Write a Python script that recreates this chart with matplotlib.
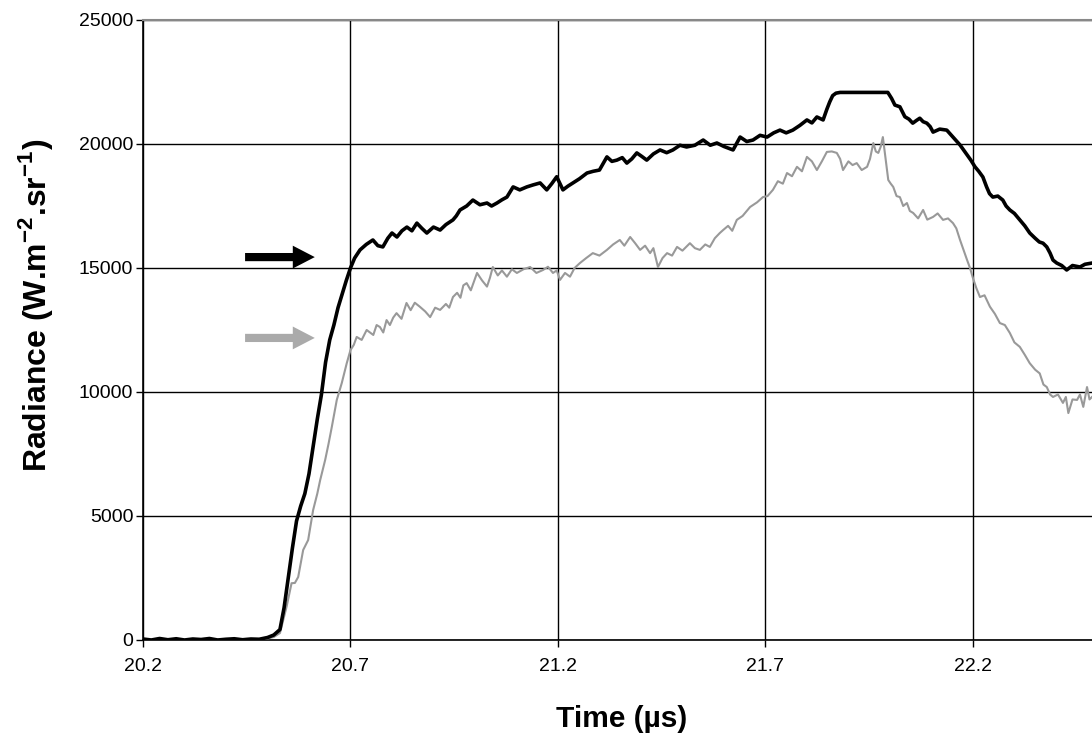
import matplotlib
matplotlib.use('Agg')
import matplotlib.pyplot as plt
from matplotlib.patches import FancyArrow

plt.rcParams['font.family'] = ['Liberation Sans', 'DejaVu Sans']
plt.rcParams['mathtext.fontset'] = 'custom'
plt.rcParams['mathtext.rm'] = 'Liberation Sans'
plt.rcParams['mathtext.bf'] = 'Liberation Sans:bold'

# black trace (time in us, radiance)
t_black = [20.20, 20.22, 20.24, 20.26, 20.28, 20.30, 20.32, 20.34, 20.36, 20.38,
           20.40, 20.42, 20.44, 20.46, 20.48, 20.50, 20.515, 20.53, 20.54, 20.55,
           20.56, 20.57, 20.58, 20.59, 20.60, 20.61, 20.62, 20.63, 20.64, 20.65,
           20.66, 20.67, 20.68, 20.69, 20.70, 20.71, 20.723, 20.738, 20.754, 20.766,
           20.778, 20.79, 20.80, 20.812, 20.824, 20.836, 20.848, 20.86, 20.872, 20.884,
           20.90, 20.916, 20.93, 20.947, 20.955, 20.964, 20.98, 20.995, 21.012, 21.029,
           21.04, 21.053, 21.065, 21.077, 21.092, 21.108, 21.125, 21.14, 21.157, 21.173,
           21.185, 21.197, 21.212, 21.224, 21.236, 21.252, 21.27, 21.285, 21.30, 21.318,
           21.33, 21.342, 21.355, 21.366, 21.378, 21.39, 21.402, 21.414, 21.43, 21.446,
           21.462, 21.477, 21.494, 21.51, 21.53, 21.55, 21.567, 21.583, 21.60, 21.622,
           21.639, 21.655, 21.67, 21.687, 21.704, 21.72, 21.735, 21.75, 21.766, 21.783,
           21.80, 21.812, 21.824, 21.839, 21.848, 21.855, 21.862, 21.87, 21.88, 21.995,
           22.004, 22.012, 22.024, 22.036, 22.046, 22.055, 22.064, 22.072, 22.08, 22.089,
           22.097, 22.104, 22.12, 22.137, 22.152, 22.169, 22.186, 22.195, 22.205, 22.214,
           22.224, 22.233, 22.24, 22.248, 22.26, 22.272, 22.28, 22.289, 22.30, 22.313,
           22.325, 22.337, 22.35, 22.36, 22.369, 22.378, 22.386, 22.393, 22.402, 22.414,
           22.426, 22.44, 22.458, 22.47, 22.487]
v_black = [40, 0, 60, 10, 50, 0, 40, 20, 60, 0,
           30, 50, 10, 40, 30, 100, 200, 420, 1300, 2500,
           3700, 4800, 5400, 5900, 6700, 7800, 8900, 9900, 11200, 12100,
           12700, 13400, 13950, 14500, 15000, 15400, 15730, 15950, 16130, 15900,
           15850, 16200, 16410, 16250, 16500, 16650, 16500, 16810, 16600, 16410,
           16650, 16530, 16750, 16940, 17100, 17340, 17500, 17740, 17550, 17620,
           17500, 17620, 17750, 17860, 18270, 18150, 18270, 18350, 18430, 18150,
           18400, 18680, 18150, 18300, 18430, 18600, 18830, 18900, 18950, 19480,
           19300, 19350, 19450, 19230, 19400, 19640, 19500, 19350, 19600, 19760,
           19650, 19760, 19950, 19880, 19950, 20160, 19950, 20040, 19900, 19760,
           20280, 20100, 20160, 20350, 20280, 20450, 20560, 20450, 20560, 20750,
           20970, 20850, 21090, 20970, 21400, 21700, 21950, 22050, 22080, 22080,
           21840, 21570, 21500, 21100, 21000, 20840, 20950, 21040, 20900, 20840,
           20700, 20480, 20600, 20560, 20280, 19960, 19560, 19350, 19080, 18900,
           18670, 18270, 18000, 17860, 17900, 17740, 17500, 17340, 17200, 16940,
           16700, 16410, 16200, 16050, 16000, 15850, 15600, 15320, 15200, 15100,
           14920, 15100, 15040, 15150, 15200]

# grey trace
t_grey = [20.20, 20.25, 20.30, 20.35, 20.40, 20.45, 20.48, 20.50, 20.515, 20.53,
          20.546, 20.558, 20.566, 20.574, 20.586, 20.598, 20.61, 20.62, 20.627, 20.639,
          20.647, 20.655, 20.667, 20.679, 20.691, 20.70, 20.708, 20.715, 20.727, 20.739,
          20.755, 20.763, 20.771, 20.779, 20.787, 20.795, 20.803, 20.811, 20.823, 20.835,
          20.845, 20.855, 20.867, 20.88, 20.892, 20.904, 20.916, 20.93, 20.938, 20.947,
          20.957, 20.965, 20.972, 20.98, 20.99, 21.005, 21.017, 21.029, 21.036, 21.043,
          21.055, 21.065, 21.077, 21.089, 21.101, 21.117, 21.133, 21.148, 21.164, 21.176,
          21.188, 21.197, 21.205, 21.217, 21.229, 21.24, 21.253, 21.268, 21.284, 21.30,
          21.318, 21.333, 21.349, 21.36, 21.374, 21.386, 21.398, 21.41, 21.422, 21.43,
          21.441, 21.452, 21.463, 21.475, 21.487, 21.50, 21.518, 21.53, 21.542, 21.555,
          21.566, 21.578, 21.59, 21.598, 21.61, 21.62, 21.631, 21.645, 21.655, 21.663,
          21.68, 21.694, 21.705, 21.718, 21.73, 21.742, 21.752, 21.764, 21.776, 21.788,
          21.80, 21.812, 21.824, 21.836, 21.848, 21.86, 21.872, 21.88, 21.887, 21.90,
          21.91, 21.92, 21.932, 21.945, 21.952, 21.96, 21.966, 21.972, 21.978, 21.983,
          21.99, 21.996, 22.002, 22.008, 22.016, 22.024, 22.032, 22.041, 22.048, 22.056,
          22.068, 22.08, 22.09, 22.104, 22.115, 22.128, 22.14, 22.152, 22.16, 22.169,
          22.178, 22.186, 22.193, 22.20, 22.208, 22.217, 22.228, 22.241, 22.253, 22.265,
          22.277, 22.289, 22.30, 22.313, 22.325, 22.337, 22.35, 22.361, 22.37, 22.378,
          22.386, 22.393, 22.405, 22.417, 22.424, 22.43, 22.44, 22.451, 22.458, 22.466,
          22.475, 22.481, 22.487]
v_grey = [0, 20, 0, 30, 0, 40, 20, 60, 120, 280,
          1340, 2290, 2300, 2540, 3630, 4030, 5240, 5900, 6450, 7260,
          7900, 8590, 9680, 10360, 11160, 11690, 11900, 12220, 12100, 12500,
          12300, 12700, 12620, 12400, 12900, 12700, 13000, 13180, 12950, 13590,
          13300, 13600, 13440, 13250, 13020, 13400, 13310, 13550, 13400, 13830,
          14000, 13800, 14300, 14390, 14100, 14800, 14500, 14250, 14600, 15040,
          14700, 14900, 14650, 14950, 14800, 14950, 15040, 14800, 14920, 15050,
          14800, 14900, 14520, 14800, 14650, 15000, 15200, 15400, 15600, 15500,
          15730, 15950, 16130, 15900, 16250, 16000, 15730, 15900, 15600, 15800,
          15040, 15400, 15600, 15500, 15850, 15700, 16000, 15800, 15730, 15950,
          15850, 16200, 16410, 16530, 16700, 16500, 16940, 17100, 17300, 17460,
          17650, 17860, 17900, 18150, 18500, 18400, 18830, 18700, 19080, 18900,
          19480, 19300, 18950, 19300, 19680, 19700, 19640, 19400, 18950, 19300,
          19150, 19230, 18950, 19080, 19400, 20040, 19700, 19640, 19900, 20280,
          19350, 18550, 18400, 18270, 17900, 17860, 17500, 17620, 17300, 17220,
          17000, 17340, 16950, 17060, 17200, 16940, 17000, 16810, 16600, 16130,
          15700, 15320, 15000, 14600, 14200, 13830, 13900, 13440, 13150, 12780,
          12700, 12380, 12000, 11820, 11500, 11160, 10900, 10750, 10300, 10200,
          9900, 9800, 9900, 9560, 9800, 9150, 9700, 9680, 9900, 9400,
          10200, 9700, 9800]

x_ticks = [20.2, 20.7, 21.2, 21.7, 22.2]
y_ticks = [0, 5000, 10000, 15000, 20000, 25000]

fig = plt.figure(figsize=(10.92, 7.41), dpi=100)
ax = fig.add_axes([143 / 1092, 1 - 640 / 741, 949 / 1092, 620 / 741])

ax.plot(t_grey, v_grey, color='#999999', lw=1.5, zorder=3)
ax.plot(t_black, v_black, color='black', lw=2.6, zorder=4)

# arrows pointing at the two traces
ax.add_patch(FancyArrow(20.446, 15440, 0.168, 0, width=330, head_width=920,
                        head_length=0.053, length_includes_head=True,
                        color='black', lw=0, zorder=5))
ax.add_patch(FancyArrow(20.446, 12180, 0.168, 0, width=330, head_width=920,
                        head_length=0.053, length_includes_head=True,
                        color='#aaaaaa', lw=0, zorder=5))

ax.set_xlim(20.2, 22.487)
ax.set_ylim(0, 25000)
ax.set_xticks(x_ticks)
ax.set_xticklabels(['20.2', '20.7', '21.2', '21.7', '22.2'])
ax.set_yticks(y_ticks)
ax.grid(True, color='black', lw=1.0)
ax.set_axisbelow(True)
ax.tick_params(direction='out', length=5, width=1, labelsize=14)
ax.tick_params(axis='y', pad=2)
ax.tick_params(axis='x', pad=8)

ax.spines['right'].set_visible(False)
ax.spines['top'].set_color('#888888')
ax.spines['top'].set_linewidth(1.5)
ax.spines['left'].set_linewidth(1.2)
ax.spines['bottom'].set_linewidth(1.2)

ax.set_xlabel('Time (µs)', fontsize=21.5, fontweight='bold')
ax.xaxis.set_label_coords(0.504, -0.105)
ax.set_ylabel(r'Radiance (W.m$^{\mathbf{-2}}$.sr$^{\mathbf{-1}}$)', fontsize=23, fontweight='bold')
ax.yaxis.set_label_coords(-0.093, 0.54)

fig.savefig('out.png', dpi=100)
